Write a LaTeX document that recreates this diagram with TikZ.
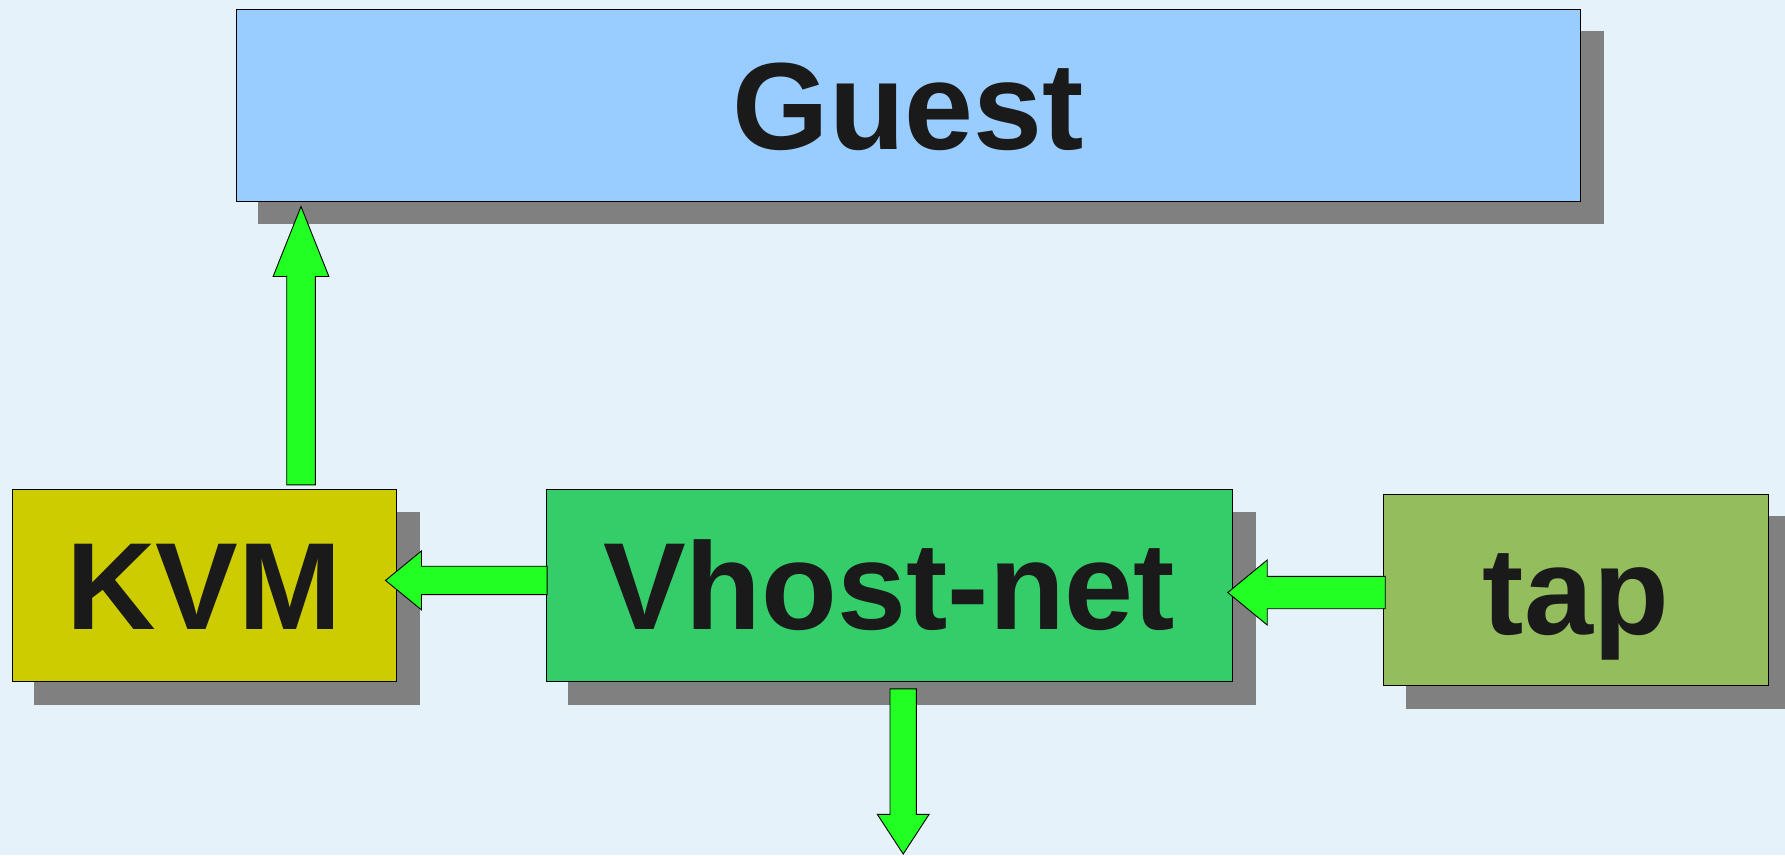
\documentclass[tikz,border=0pt]{standalone}
\usepackage{fontspec}
\setmainfont{Liberation Sans}
\usetikzlibrary{calc,backgrounds}
\definecolor{bgc}{HTML}{E6F2F9}
\definecolor{guestc}{HTML}{99CCFF}
\definecolor{kvmc}{HTML}{CCCC00}
\definecolor{vhostc}{HTML}{35CC6A}
\definecolor{tapc}{HTML}{94BD5E}
\definecolor{arrowc}{HTML}{22FF22}
\definecolor{shadowc}{HTML}{808080}
\definecolor{txtc}{HTML}{1A1A1A}
\tikzset{
  box/.style={draw=black, line width=1pt, rectangle, inner sep=0pt,
    text height=88.8pt, text depth=0pt, text=txtc,
    font=\fontsize{124}{130}\selectfont\bfseries},
  shadowbox/.style={fill=shadowc},
  barrow/.style={fill=arrowc, draw=black, line width=0.9pt, line join=miter},
}
% tail, tip, shaft half width, head half width, head length
\newcommand\blockarrow[5]{%
  \path ($(#2)!#5!(#1)$) coordinate (hb);
  \draw[barrow] ($(#1)!#3!90:(#2)$) -- ($(hb)!#3!90:(#2)$) -- ($(hb)!#4!90:(#2)$)
    -- (#2) -- ($(hb)!#4!-90:(#2)$) -- ($(hb)!#3!-90:(#2)$) -- ($(#1)!#3!-90:(#2)$) -- cycle;
}
\begin{document}
\begin{tikzpicture}[x=1pt,y=-1pt]
\useasboundingbox (0,0) rectangle (1785,855);

\node[box, fill=guestc, minimum width=1344.7pt, minimum height=192pt] (guest) at (908.35,105) {Guest};
\node[box, fill=kvmc, minimum width=384.3pt, minimum height=192pt] (kvm) at (204.15,585.3) {KVM};
\node[box, fill=vhostc, minimum width=686.3pt, minimum height=192pt] (vhost) at (889.15,585.3) {Vhost-net};
\node[box, fill=tapc, minimum width=384.3pt, minimum height=191.7pt] (tap) at (1575.85,589.85) {tap};

\begin{scope}[on background layer]
  \fill[bgc] (0,0) rectangle (1785,855);
  \foreach \n in {guest,kvm,vhost,tap}{
    \fill[shadowbox] ($(\n.north west)+(22.7,22.7)$) rectangle ($(\n.south east)+(22.7,22.7)$);
  }
\end{scope}

% KVM -> Guest
\coordinate (a1s) at ($(kvm.north)+(96.85,-4)$);
\coordinate (a1e) at ($(guest.south)+(-607.35,5)$);
\blockarrow{a1s}{a1e}{14.3pt}{27.9pt}{70pt}

% Vhost-net -> KVM
\coordinate (a2s) at ($(vhost.west)+(1.6,-4.9)$);
\coordinate (a2e) at ($(kvm.east)+(-11.3,-4.9)$);
\blockarrow{a2s}{a2e}{14.2pt}{29.5pt}{36pt}

% tap -> Vhost-net
\coordinate (a3s) at ($(tap.west)+(2,2.65)$);
\coordinate (a3e) at ($(vhost.east)+(-5,7.2)$);
\blockarrow{a3s}{a3e}{16.2pt}{32.5pt}{39.4pt}

% Vhost-net -> out
\coordinate (a4s) at ($(vhost.south)+(14.05,7)$);
\coordinate (a4e) at (903.2,854);
\blockarrow{a4s}{a4e}{13.2pt}{25.9pt}{39.7pt}
\end{tikzpicture}
\end{document}
